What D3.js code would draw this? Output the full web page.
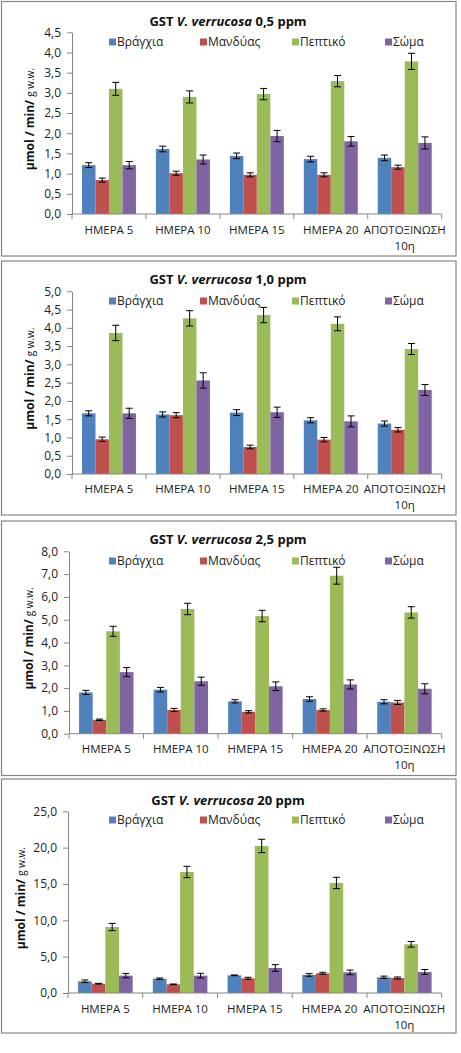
<!DOCTYPE html>
<html><head><meta charset="utf-8">
<script src="https://cdn.jsdelivr.net/npm/d3@7"></script>
<style>body{margin:0;background:#fff} svg{display:block}</style>
</head><body>
<svg id="c" width="461" height="1053"></svg>
<script>
const categories = ["ΗΜΕΡΑ 5","ΗΜΕΡΑ 10","ΗΜΕΡΑ 15","ΗΜΕΡΑ 20","ΑΠΟΤΟΞΙΝΩΣΗ\n10η"];
const seriesNames = ["Βράγχια","Μανδύας","Πεπτικό","Σώμα"];
const seriesColors = ["#4F81BD","#C0504D","#9BBB59","#8064A2"];
const concentrations = ["0,5","1,0","2,5","20"];
const yMax = [4.5, 5.0, 8.0, 25.0];
const yStep = [0.5, 0.5, 1.0, 5.0];

// [series][category]
const vals05 = [[1.21,1.61,1.44,1.36,1.39],[0.84,1.01,0.97,0.97,1.16],[3.10,2.90,2.97,3.29,3.78],[1.21,1.35,1.93,1.80,1.76]];
const errs05 = [[0.06,0.07,0.07,0.07,0.07],[0.05,0.05,0.05,0.05,0.05],[0.16,0.15,0.14,0.14,0.20],[0.09,0.11,0.14,0.12,0.15]];
const vals10 = [[1.66,1.63,1.68,1.47,1.38],[0.95,1.61,0.74,0.94,1.21],[3.86,4.26,4.35,4.11,3.42],[1.66,2.56,1.69,1.44,2.30]];
const errs10 = [[0.07,0.07,0.08,0.07,0.07],[0.06,0.07,0.05,0.06,0.06],[0.21,0.21,0.21,0.19,0.15],[0.14,0.21,0.14,0.15,0.15]];
const vals25 = [[1.81,1.93,1.42,1.52,1.40],[0.61,1.04,0.96,1.04,1.37],[4.49,5.47,5.16,6.93,5.32],[2.70,2.30,2.08,2.16,1.97]];
const errs25 = [[0.09,0.10,0.07,0.10,0.09],[0.03,0.07,0.05,0.05,0.09],[0.22,0.25,0.25,0.37,0.25],[0.20,0.18,0.19,0.20,0.22]];
const vals20 = [[1.61,1.97,2.43,2.48,2.16],[1.28,1.19,2.02,2.71,2.06],[9.08,16.65,20.23,15.14,6.70],[2.39,2.39,3.44,2.84,2.89]];
const errs20 = [[0.18,0.10,0.05,0.18,0.16],[0.05,0.05,0.14,0.14,0.14],[0.50,0.78,0.92,0.78,0.39],[0.30,0.32,0.46,0.32,0.34]];

const panelValues = [vals05, vals10, vals25, vals20];
const panelErrors = [errs05, errs10, errs25, errs20];

const layout = [
  {boxTop:1.5, boxBottom:256, title:21, legend:42, top:32.3, zero:214, lab:230, x0:72, ytx:34},
  {boxTop:261, boxBottom:515, title:279, legend:301, top:291.3, zero:474, lab:489, x0:72, ytx:34},
  {boxTop:521, boxBottom:775.5, title:539, legend:561, top:551.3, zero:733.7, lab:749, x0:69, ytx:33},
  {boxTop:779, boxBottom:1033, title:800, legend:820, top:811.3, zero:993, lab:1009, x0:68, ytx:25}
];
const x1 = 441.7;
const legendX = [109, 200, 292, 385];
const FONT = "'Open Sans','Noto Sans',sans-serif";
const AXIS = "#868686";

const svg = d3.select("#c");

layout.forEach((L, p) => {
  const g = svg.append("g");
  g.append("rect").attr("x", 1.5).attr("y", L.boxTop).attr("width", 454.5)
    .attr("height", L.boxBottom - L.boxTop).attr("fill", "#fff")
    .attr("stroke", AXIS).attr("stroke-width", 1.2);

  const x = d3.scaleBand().domain(categories).range([L.x0, x1]).padding(0);
  const bw = x.bandwidth();
  const grp = bw * 0.73;
  const xs = d3.scaleBand().domain(seriesNames).range([(bw - grp) / 2, bw - (bw - grp) / 2]).padding(0);
  const y = d3.scaleLinear().domain([0, yMax[p]]).range([L.zero, L.top]);

  // y axis
  const ticks = d3.range(0, yMax[p] + yStep[p] / 2, yStep[p]);
  const ya = g.append("g").attr("transform", `translate(${L.x0},0)`)
    .call(d3.axisLeft(y).tickValues(ticks).tickSize(5).tickSizeOuter(0).tickPadding(6)
      .tickFormat(d => d3.format(".1f")(d).replace(".", ",")));
  ya.select(".domain").attr("stroke", AXIS);
  ya.selectAll(".tick line").attr("stroke", AXIS);
  ya.selectAll(".tick text").attr("font-family", FONT).attr("font-size", 12).attr("fill", "#222");

  // bars
  const data = [];
  seriesNames.forEach((s, si) => categories.forEach((c, ci) => {
    data.push({s, si, c, v: panelValues[p][si][ci], e: panelErrors[p][si][ci]});
  }));
  g.selectAll("rect.bar").data(data).enter().append("rect").attr("class", "bar")
    .attr("x", d => x(d.c) + xs(d.s)).attr("width", xs.bandwidth())
    .attr("y", d => y(d.v)).attr("height", d => y(0) - y(d.v))
    .attr("fill", d => seriesColors[d.si]);

  // error bars
  const eb = g.selectAll("g.err").data(data).enter().append("g")
    .attr("stroke", "#000").attr("stroke-width", 1);
  const cx = d => x(d.c) + xs(d.s) + xs.bandwidth() / 2;
  eb.append("line").attr("x1", cx).attr("x2", cx).attr("y1", d => y(d.v + d.e)).attr("y2", d => y(d.v - d.e));
  eb.append("line").attr("x1", d => cx(d) - 3.5).attr("x2", d => cx(d) + 3.5).attr("y1", d => y(d.v + d.e)).attr("y2", d => y(d.v + d.e));
  eb.append("line").attr("x1", d => cx(d) - 3.5).attr("x2", d => cx(d) + 3.5).attr("y1", d => y(d.v - d.e)).attr("y2", d => y(d.v - d.e));

  // x axis
  g.append("line").attr("x1", L.x0).attr("x2", x1).attr("y1", y(0)).attr("y2", y(0)).attr("stroke", AXIS);
  const bounds = categories.map(c => x(c)).concat([x(categories[categories.length - 1]) + bw]);
  g.selectAll("line.xt").data(bounds).enter().append("line")
    .attr("x1", d => d).attr("x2", d => d).attr("y1", y(0)).attr("y2", y(0) + 5).attr("stroke", AXIS);
  categories.forEach(c => {
    const lines = c.split("\n");
    const t = g.append("text").attr("font-family", FONT).attr("font-size", 11.5).attr("fill", "#222")
      .attr("text-anchor", "middle");
    lines.forEach((ln, i) => t.append("tspan").attr("x", x(c) + bw / 2).attr("y", L.lab + i * 16).attr("dy", "0.35em").text(ln));
  });

  // title
  const tt = g.append("text").attr("x", 228).attr("y", L.title).attr("dy", "0.35em")
    .attr("text-anchor", "middle").attr("font-family", FONT).attr("font-size", 13).attr("font-weight", "bold").attr("fill", "#111");
  tt.append("tspan").text("GST ");
  tt.append("tspan").attr("font-style", "italic").text("V. verrucosa");
  tt.append("tspan").text(" " + concentrations[p] + " ppm");

  // legend
  seriesNames.forEach((s, i) => {
    g.append("rect").attr("x", legendX[i]).attr("y", L.legend - 3.5).attr("width", 7).attr("height", 7).attr("fill", seriesColors[i]);
    g.append("text").attr("x", legendX[i] + 8).attr("y", L.legend).attr("dy", "0.35em")
      .attr("font-family", FONT).attr("font-size", 12).attr("fill", "#222").text(s);
  });

  // y title
  const cy = (L.top + L.zero) / 2 - 4;
  const yt = g.append("text").attr("transform", `translate(${L.ytx},${cy}) rotate(-90)`)
    .attr("text-anchor", "middle").attr("font-family", FONT).attr("fill", "#111");
  yt.append("tspan").attr("font-size", 12).attr("font-weight", "bold").text("μmol / min/ ");
  yt.append("tspan").attr("font-size", 10).text("g w.w.");
});
</script>
</body></html>
